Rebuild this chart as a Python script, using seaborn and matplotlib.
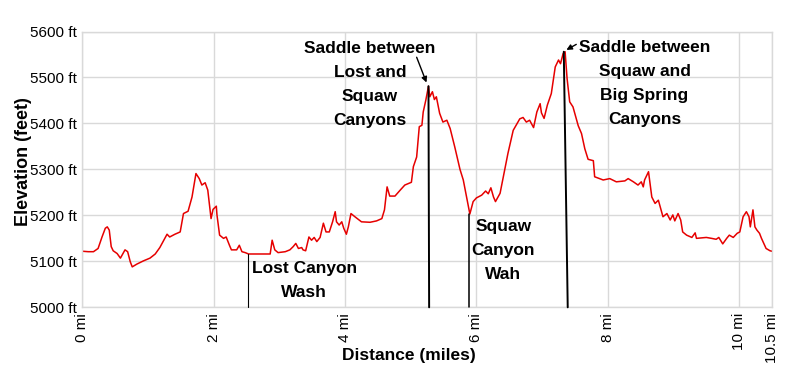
import numpy as np
import pandas as pd
import seaborn as sns
import matplotlib.pyplot as plt

# Elevation profile (miles, feet)
distance = [0.00, 0.09, 0.17, 0.24, 0.30, 0.35, 0.38, 0.41, 0.44, 0.47, 0.53, 0.58, 0.65, 0.69,
            0.73, 0.76, 0.83, 0.93, 1.03, 1.11, 1.18, 1.23, 1.29, 1.33, 1.41, 1.49, 1.54, 1.61,
            1.67, 1.73, 1.78, 1.82, 1.87, 1.91, 1.96, 1.99, 2.04, 2.05, 2.09, 2.15, 2.19, 2.24,
            2.27, 2.35, 2.39, 2.43, 2.48, 2.53, 2.86, 2.89, 2.93, 2.98, 3.09, 3.16, 3.21, 3.25,
            3.29, 3.34, 3.36, 3.40, 3.45, 3.49, 3.53, 3.57, 3.62, 3.67, 3.71, 3.76, 3.81, 3.85,
            3.87, 3.91, 3.95, 3.98, 4.02, 4.05, 4.09, 4.15, 4.25, 4.38, 4.48, 4.56, 4.60, 4.64,
            4.68, 4.76, 4.84, 4.91, 4.99, 5.01, 5.04, 5.09, 5.13, 5.17, 5.19, 5.23, 5.27, 5.29,
            5.33, 5.36, 5.39, 5.44, 5.49, 5.55, 5.60, 5.67, 5.75, 5.80, 5.85, 5.90, 5.95, 6.00,
            6.08, 6.14, 6.18, 6.22, 6.26, 6.29, 6.36, 6.41, 6.48, 6.56, 6.66, 6.71, 6.76, 6.81,
            6.87, 6.92, 6.97, 6.99, 7.03, 7.08, 7.14, 7.20, 7.25, 7.28, 7.32, 7.35, 7.38, 7.42,
            7.47, 7.55, 7.60, 7.65, 7.70, 7.78, 7.80, 7.93, 8.03, 8.13, 8.26, 8.31, 8.39, 8.46,
            8.51, 8.54, 8.56, 8.62, 8.67, 8.72, 8.77, 8.84, 8.90, 8.95, 8.99, 9.02, 9.07, 9.11,
            9.14, 9.20, 9.28, 9.33, 9.35, 9.50, 9.58, 9.65, 9.69, 9.75, 9.81, 9.85, 9.91, 9.97,
            10.01, 10.06, 10.11, 10.15, 10.17, 10.21, 10.24, 10.27, 10.31, 10.34, 10.41, 10.47, 10.50]
elevation = [5122, 5121, 5121, 5128, 5153, 5172, 5175, 5168, 5132, 5123, 5117, 5107, 5125, 5121,
             5099, 5088, 5094, 5101, 5107, 5116, 5130, 5143, 5159, 5153, 5159, 5164, 5204, 5209,
             5240, 5291, 5280, 5266, 5271, 5255, 5193, 5213, 5220, 5201, 5157, 5150, 5153, 5135,
             5125, 5125, 5135, 5121, 5119, 5116, 5116, 5146, 5125, 5119, 5121, 5125, 5132, 5139,
             5128, 5130, 5125, 5123, 5153, 5146, 5152, 5143, 5152, 5183, 5164, 5164, 5186, 5208,
             5186, 5179, 5186, 5172, 5159, 5175, 5204, 5197, 5186, 5185, 5188, 5193, 5212, 5262,
             5242, 5242, 5255, 5266, 5271, 5272, 5306, 5327, 5393, 5396, 5425, 5451, 5481, 5458,
             5469, 5452, 5458, 5422, 5403, 5407, 5389, 5349, 5300, 5277, 5240, 5203, 5230, 5238,
             5244, 5253, 5247, 5260, 5240, 5230, 5248, 5284, 5335, 5385, 5410, 5413, 5403, 5407,
             5391, 5425, 5443, 5423, 5411, 5440, 5465, 5523, 5538, 5530, 5552, 5556, 5498, 5447,
             5436, 5395, 5378, 5345, 5322, 5319, 5284, 5277, 5280, 5273, 5275, 5280, 5273, 5266,
             5273, 5262, 5277, 5295, 5240, 5226, 5233, 5197, 5204, 5190, 5201, 5188, 5204, 5190,
             5164, 5157, 5152, 5162, 5150, 5152, 5150, 5148, 5152, 5138, 5150, 5157, 5152, 5161,
             5164, 5197, 5208, 5197, 5175, 5212, 5175, 5168, 5161, 5150, 5128, 5123, 5122]

# Tick positions and labels
x_ticks = [0, 2, 4, 6, 8, 10, 10.5]
x_labels = ['0 mi', '2 mi', '4 mi', '6 mi', '8 mi', '10 mi', '10.5 mi']
y_ticks = [5000, 5100, 5200, 5300, 5400, 5500, 5600]
y_labels = ['5000 ft', '5100 ft', '5200 ft', '5300 ft', '5400 ft', '5500 ft', '5600 ft']

# Waypoint markers: line top (x, elev), line bottom x, label text and label position
marker_x_top = [2.52, 5.27, 5.89, 7.33]
marker_y_top = [5116, 5481, 5203, 5556]
marker_x_bottom = [2.52, 5.28, 5.89, 7.39]
marker_widths = [0.8, 1.4, 1.1, 1.4]
marker_text = ['Lost Canyon\nWash',
               'Saddle between\nLost and\nSquaw\nCanyons',
               'Squaw\nCanyon\nWah',
               'Saddle between\nSquaw and\nBig Spring\nCanyons']
text_x = [3.38, 4.38, 6.41, 8.56]
text_y = [5058, 5485, 5124, 5487]

df = pd.DataFrame({'distance': distance, 'elevation': elevation})

sns.set_style('white')
plt.rcParams['font.family'] = ['Liberation Sans', 'DejaVu Sans']
plt.rcParams['text.color'] = 'black'
plt.rcParams['axes.labelcolor'] = 'black'
plt.rcParams['xtick.color'] = 'black'
plt.rcParams['ytick.color'] = 'black'

fig = plt.figure(figsize=(8, 3.81), dpi=100)
ax = fig.add_axes([0.1029, 0.1934, 0.8621, 0.7239])

sns.lineplot(data=df, x='distance', y='elevation', color='#e60000', linewidth=1.1, ax=ax)

ax.set_xlim(0, 10.5)
ax.set_ylim(5000, 5600)
ax.set_xticks(x_ticks)
ax.set_xticklabels(x_labels, rotation=90, fontsize=11)
ax.set_yticks(y_ticks)
ax.set_yticklabels(y_labels, fontsize=11)
ax.tick_params(axis='both', length=3, color='#d9d9d9', pad=1)
ax.grid(True, color='#d9d9d9', linewidth=1)
for s in ax.spines.values():
    s.set_color('#d9d9d9')
    s.set_linewidth(1)

ax.set_xlabel('Distance (miles)', fontsize=12.5, fontweight='bold')
ax.set_ylabel('Elevation (feet)', fontsize=13, fontweight='bold')
ax.xaxis.set_label_coords(0.4737, -0.149)
ax.yaxis.set_label_coords(-0.0735, 0.53)

# Waypoint lines and labels
for i in range(len(marker_text)):
    ax.plot([marker_x_top[i], marker_x_bottom[i]], [marker_y_top[i], 5000],
            color='black', linewidth=marker_widths[i], zorder=3, clip_on=False)
    ax.text(text_x[i], text_y[i], marker_text[i], ha='center', va='center',
            fontsize=12.5, fontweight='bold', linespacing=1.76, zorder=4)

# Arrows pointing at the two saddles
ax.annotate('', xy=(5.24, 5489), xytext=(5.09, 5544),
            arrowprops=dict(arrowstyle='-|>', color='black', lw=1, mutation_scale=8,
                            shrinkA=0, shrinkB=0))
ax.annotate('', xy=(7.37, 5560), xytext=(7.52, 5572),
            arrowprops=dict(arrowstyle='-|>', color='black', lw=1, mutation_scale=8,
                            shrinkA=0, shrinkB=0))

fig.savefig('out.png', dpi=100)
